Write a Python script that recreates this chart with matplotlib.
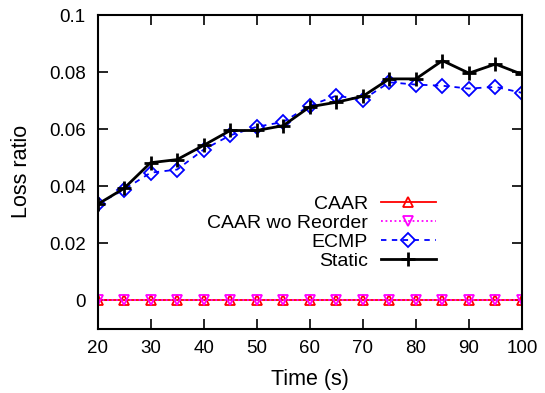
import matplotlib
matplotlib.use("Agg")
import matplotlib.pyplot as plt

plt.rcParams['font.family'] = ['Liberation Sans', 'DejaVu Sans']

time_s = [20, 25, 30, 35, 40, 45, 50, 55, 60, 65, 70, 75, 80, 85, 90, 95, 100]
caar = [0.0] * 17
caar_wo_reorder = [0.0] * 17
ecmp = [0.0336, 0.0388, 0.0447, 0.0458, 0.0528, 0.0578, 0.0608, 0.0625, 0.0682,
        0.0717, 0.0703, 0.0764, 0.0756, 0.0752, 0.0742, 0.0748, 0.0727]
static = [0.0336, 0.0392, 0.0482, 0.0493, 0.0543, 0.0595, 0.0595, 0.0612, 0.0678,
          0.0694, 0.0715, 0.0776, 0.0776, 0.0840, 0.0796, 0.0828, 0.0792]
x_ticks = [20, 30, 40, 50, 60, 70, 80, 90, 100]
y_ticks = [0, 0.02, 0.04, 0.06, 0.08, 0.1]
y_tick_labels = ["0", "0.02", "0.04", "0.06", "0.08", "0.1"]

fig = plt.figure(figsize=(5.45, 3.93), dpi=100)
ax = fig.add_axes([97.5/545, 64.3/393, (522-97.5)/545, (378-64.3)/393])

fs_tick = 13.5
fs_leg = 14
fs_lab = 15.5
ax.plot(time_s, caar, color='#ff0000', lw=1.3, marker='^', ms=7.5,
        mfc='none', mec='#ff0000', mew=1.3, label='CAAR')
ax.plot(time_s, caar_wo_reorder, color='#ff00ff', lw=1.3, ls=(0, (1, 1.5)),
        marker='v', ms=7.5, mfc='none', mec='#ff00ff', mew=1.3, label='CAAR wo Reorder')
ax.plot(time_s, ecmp, color='#0000ff', lw=1.3, ls=(0, (3, 3)), marker='D', ms=7,
        mfc='none', mec='#0000ff', mew=1.3, label='ECMP')
ax.plot(time_s, static, color='black', lw=2, marker='+', ms=9.5, mew=2, label='Static')

ax.set_xlim(20, 100)
ax.set_ylim(-0.01, 0.1)
ax.set_xticks(x_ticks)
ax.set_xticklabels([str(t) for t in x_ticks], fontsize=fs_tick)
ax.set_yticks(y_ticks)
ax.set_yticklabels(y_tick_labels, fontsize=fs_tick)
ax.tick_params(direction='in', length=7.2, width=1.2, top=True, right=True)
ax.tick_params(axis='y', pad=8.5)
ax.tick_params(axis='x', pad=8)
for s in ax.spines.values():
    s.set_linewidth(1.5)
ax.set_xlabel('Time (s)', fontsize=fs_lab, labelpad=9)
ax.set_ylabel('Loss ratio', fontsize=fs_lab, labelpad=12)

leg = ax.legend(loc='upper right', bbox_to_anchor=(436/545, 1-195/393),
                bbox_transform=fig.transFigure, frameon=False, markerfirst=False,
                fontsize=fs_leg, handlelength=2.85, handletextpad=0.65, labelspacing=0.07,
                borderpad=0, borderaxespad=0, numpoints=1)

fig.savefig('out.png', dpi=100)
